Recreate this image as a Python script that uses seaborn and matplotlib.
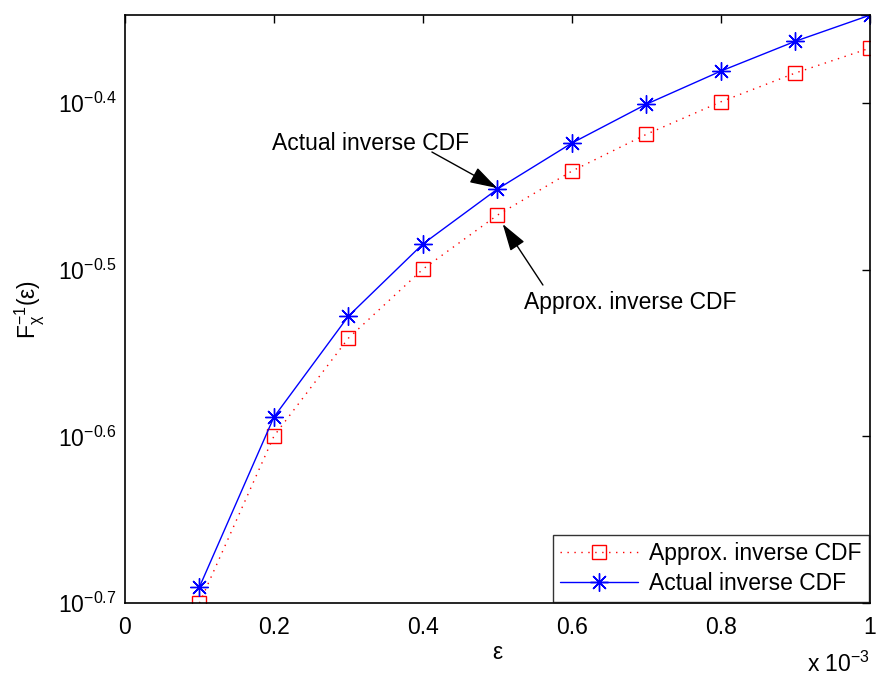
import numpy as np
import pandas as pd
import matplotlib
matplotlib.use("Agg")
import matplotlib.pyplot as plt
from matplotlib.ticker import FixedLocator, FuncFormatter, NullLocator
import seaborn as sns

# Outage probability epsilon and the inverse CDF values
eps = [1e-4, 2e-4, 3e-4, 4e-4, 5e-4, 6e-4, 7e-4, 8e-4, 9e-4, 1e-3]
approx_cdf = [0.1995, 0.2513, 0.2877, 0.3165, 0.3410, 0.3624, 0.3813, 0.3988, 0.4150, 0.4295]
actual_cdf = [0.2040, 0.2580, 0.2966, 0.3277, 0.3535, 0.3767, 0.3975, 0.4161, 0.4336, 0.4495]

y_tick_exps = [-0.7, -0.6, -0.5, -0.4]
x_ticks = [0, 2e-4, 4e-4, 6e-4, 8e-4, 1e-3]

sns.set_style("white")
plt.rcParams["font.family"] = ["Liberation Sans", "DejaVu Sans"]
plt.rcParams["mathtext.fontset"] = "custom"
plt.rcParams["mathtext.rm"] = "Liberation Sans"
plt.rcParams["mathtext.it"] = "Liberation Sans:italic"
plt.rcParams["mathtext.default"] = "regular"
plt.rcParams["text.color"] = "black"
plt.rcParams["axes.labelcolor"] = "black"

FS = 16.5

df = pd.DataFrame({
    "eps": eps * 2,
    "val": approx_cdf + actual_cdf,
    "curve": ["Approx. inverse CDF"] * len(eps) + ["Actual inverse CDF"] * len(eps),
})

fig = plt.figure(figsize=(8.77, 6.77), dpi=100)
ax = fig.add_axes([0.1425, 0.1093, 0.8495, 0.8685])

asterisk = (8, 2, 0)
sns.lineplot(data=df[df.curve == "Approx. inverse CDF"], x="eps", y="val", ax=ax,
             color="red", linestyle=(0, (1, 4)), linewidth=1.0,
             marker="s", markersize=10, markerfacecolor="none",
             markeredgecolor="red", markeredgewidth=1.0,
             label="Approx. inverse CDF")
sns.lineplot(data=df[df.curve == "Actual inverse CDF"], x="eps", y="val", ax=ax,
             color="blue", linestyle="-", linewidth=1.0,
             marker=asterisk, markersize=13, markeredgecolor="blue",
             markeredgewidth=1.0,
             label="Actual inverse CDF")

ax.set_yscale("log")
ax.set_xlim(0, 1e-3)
ax.set_ylim(10 ** -0.7, 10 ** -0.3472)

ax.xaxis.set_major_locator(FixedLocator(x_ticks))
ax.xaxis.set_major_formatter(FuncFormatter(lambda v, p: f"{v * 1e3:g}"))
ax.yaxis.set_major_locator(FixedLocator([10 ** e for e in y_tick_exps]))
ax.yaxis.set_major_formatter(FuncFormatter(
    lambda v, p: "$10^{%s}$" % f"{np.log10(v):.1f}".replace("-", "\u2212")))
ax.yaxis.set_minor_locator(NullLocator())

ax.tick_params(axis="both", which="major", direction="in", length=6, width=1,
               top=True, right=True, labelsize=FS, colors="black")
ax.tick_params(axis="x", pad=9)
ax.tick_params(axis="y", pad=6)
for s in ax.spines.values():
    s.set_linewidth(1.2)
    s.set_color("black")

ax.set_xlabel("\u03b5", fontsize=FS, labelpad=2)
ax.set_ylabel("$F_{\\chi}^{\u2212 1}$(\u03b5)", fontsize=FS, labelpad=8)
ax.text(1.0, -0.082, "x $10^{\u22123}$", transform=ax.transAxes,
        ha="right", va="top", fontsize=FS)

# Callouts
arrow_style = dict(arrowstyle="-|>,head_length=1.3,head_width=0.4",
                   color="black", lw=1.0, shrinkA=0, shrinkB=0, mutation_scale=13)
ax.text(0.329e-3, 10 ** -0.424, "Actual inverse CDF", fontsize=FS,
        ha="center", va="center")
ax.annotate("", xy=(0.4993e-3, 10 ** -0.451), xytext=(0.412e-3, 10 ** -0.4294),
            arrowprops=arrow_style)
ax.text(0.678e-3, 10 ** -0.5194, "Approx. inverse CDF", fontsize=FS,
        ha="center", va="center")
ax.annotate("", xy=(0.507e-3, 10 ** -0.4726), xytext=(0.561e-3, 10 ** -0.5092),
            arrowprops=arrow_style)

leg = ax.legend(loc="lower right", fontsize=FS, frameon=True, fancybox=False,
                borderaxespad=0.05, handlelength=3.4, borderpad=0.3,
                labelspacing=0.3, handletextpad=0.5)
leg.get_frame().set_edgecolor("black")
leg.get_frame().set_linewidth(1.0)

fig.savefig("out.png", dpi=100, facecolor="white")
